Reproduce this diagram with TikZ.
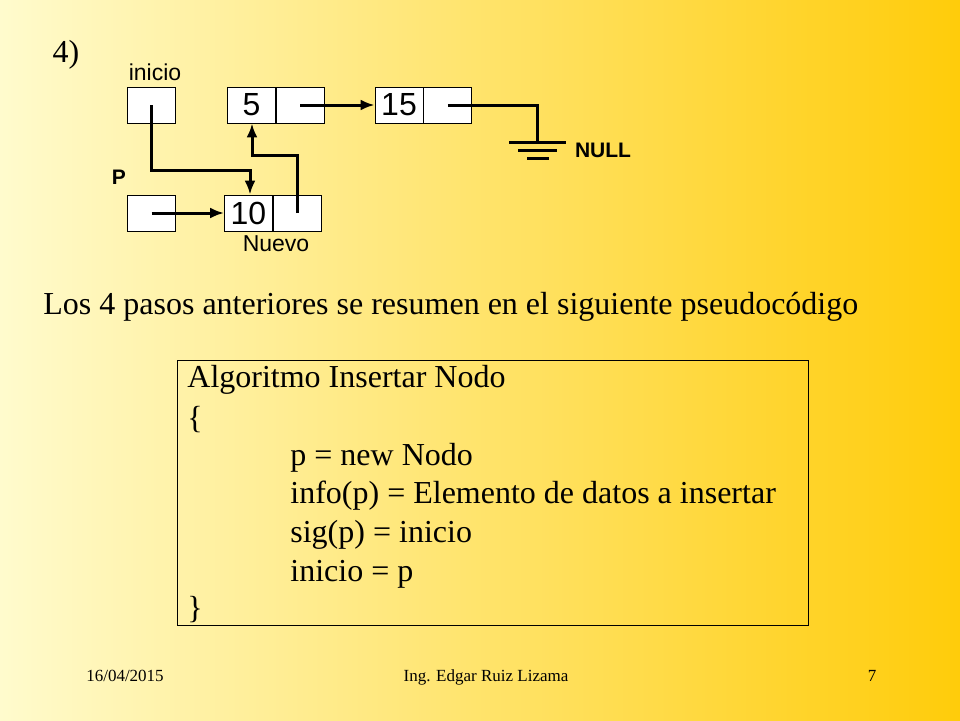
\documentclass[tikz,border=0pt]{standalone}
\usepackage{fontspec}
\setmainfont{Liberation Serif}
\newfontfamily\arialf{Liberation Sans}
\usetikzlibrary{arrows.meta,positioning}
\begin{document}
\begin{tikzpicture}[x=1pt, y=-1pt, thick,
    cell/.style = {draw, fill=white, line width=0.9pt, minimum width=48pt, minimum height=36pt, inner sep=0pt, font=\arialf\fontsize{32}{32}\selectfont},
    ptr/.style = {line width=3pt, -{Latex[length=14pt,width=11pt]}},
    lbl/.style = {font=\arialf\fontsize{23}{23}\selectfont},
    txt/.style = {font=\fontsize{32}{36}\selectfont, anchor=west, inner sep=0pt},
    foot/.style = {font=\fontsize{17}{17}\selectfont, anchor=base}]
  \shade[left color={rgb,255:red,255;green,251;blue,205}, right color={rgb,255:red,255;green,204;blue,10}] (0,0) rectangle (960,720);
  \useasboundingbox (0,0) rectangle (960,720);
  \node[txt, anchor=center] (num) at (66,55) {4)};
  % cells
  \node[cell] (ini) at (151.5,105) {};
  \node[cell] (a5) at (251.5,105) {5};
  \node[cell, right=0pt of a5] (b5) {};
  \node[cell] (a15) at (399,105) {15};
  \node[cell, right=0pt of a15] (b15) {};
  \node[cell] (pp) at (151.5,213) {};
  \node[cell] (a10) at (248.5,213) {10};
  \node[cell, right=0pt of a10] (b10) {};
  % labels
  \node[lbl] (linicio) at (155,72) {inicio};
  \node[lbl, font=\arialf\bfseries\fontsize{21}{21}\selectfont] (lp) at (119,177) {P};
  \node[lbl] (lnuevo) at (276,244) {Nuevo};
  \node[lbl, font=\arialf\bfseries\fontsize{21}{21}\selectfont] (lnull) at (603,150) {NULL};
  % pointers
  \draw[ptr] (ini.center) |- (250,170) -- (a10.north -| 250,0);
  \draw[ptr] (pp.center) -- (a10.west);
  \draw[ptr] (b10.center) |- (252,155) -- (a5.south -| 252,0);
  \draw[ptr] (b5.center) -- (a15.west);
  \coordinate (gnd) at (537,142);
  \draw[line width=3pt] (b15.center) -| (gnd);
  \draw[line width=3pt] (509,142) -- (566,142) (518,150) -- (557,150) (527,158) -- (549,158);
  % text
  \node[txt] (intro) at (43,307) {Los 4 pasos anteriores se resumen en el siguiente pseudocódigo};
  \node[draw, line width=0.9pt, minimum width=631pt, minimum height=265pt, anchor=north west, inner sep=0pt] (algo) at (177,360) {};
  \node[txt] (l1) at (187,380) {Algoritmo Insertar Nodo};
  \node[txt] (l2) at (187,420) {\{};
  \node[txt] (l3) at (290,458) {p = new Nodo};
  \node[txt] (l4) at (290,496) {info(p) = Elemento de datos a insertar};
  \node[txt] (l5) at (290,535) {sig(p) = inicio};
  \node[txt] (l6) at (290,574) {inicio = p};
  \node[txt] (l7) at (187,610) {\}};
  \node[foot] (fdate) at (125,681) {16/04/2015};
  \node[foot] (fname) at (486,681) {Ing. Edgar Ruiz Lizama};
  \node[foot] (fpage) at (872,681) {7};
\end{tikzpicture}
\end{document}
